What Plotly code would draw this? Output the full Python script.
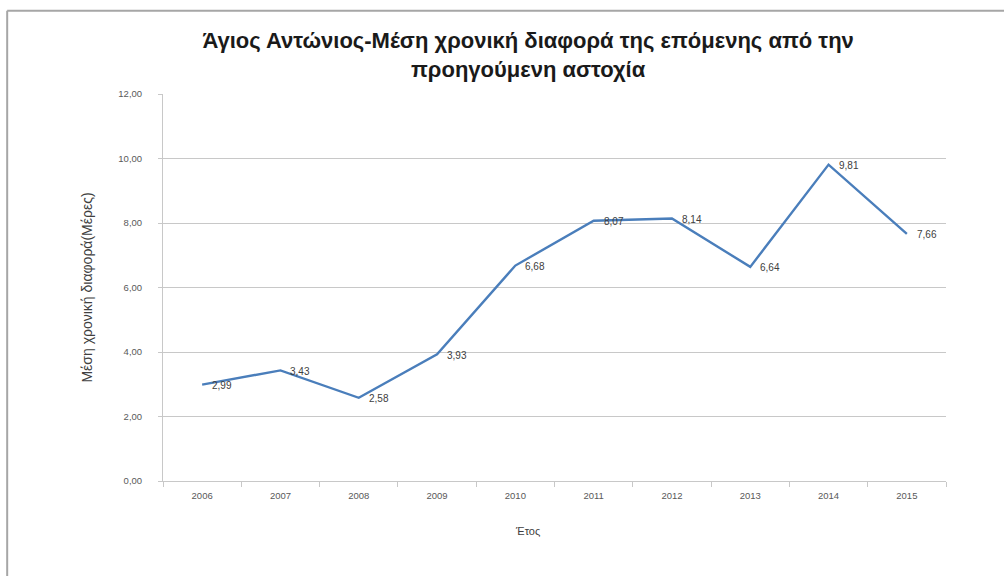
import plotly.graph_objects as go

# Mean interval (days) between consecutive failures, per year
years = ["2006", "2007", "2008", "2009", "2010", "2011", "2012", "2013", "2014", "2015"]
mean_gap_days = [2.99, 3.43, 2.58, 3.93, 6.68, 8.07, 8.14, 6.64, 9.81, 7.66]
y_ticks = [0, 2, 4, 6, 8, 10, 12]

title_text = "Άγιος Αντώνιος-Μέση χρονική διαφορά της επόμενης από την<br>προηγούμενη αστοχία"
x_title = "Έτος"
y_title = "Μέση χρονική διαφορά(Μέρες)"

FONT = "Liberation Sans"


def greek_num(v):
    return f"{v:.2f}".replace(".", ",")


fig = go.Figure()
fig.add_trace(go.Scatter(
    x=years,
    y=mean_gap_days,
    mode="lines",
    line=dict(color="#4A7EBB", width=2.4),
    hoverinfo="skip",
))

# Value labels to the right of each point (category axes take the category index)
for i, v in enumerate(mean_gap_days):
    fig.add_annotation(
        x=i, y=v, xref="x", yref="y",
        text=greek_num(v),
        showarrow=False,
        xanchor="left", yanchor="middle",
        xshift=8, yshift=-1,
        font=dict(family=FONT, size=10, color="#404040"),
    )

# X axis title, placed slightly left of the plot centre
fig.add_annotation(
    x=0.466, y=-0.129, xref="paper", yref="paper",
    text=x_title, showarrow=False,
    xanchor="center", yanchor="middle",
    font=dict(family=FONT, size=11, color="#404040"),
)

grid = "#c8c8c8"
fig.update_layout(
    width=1004,
    height=576,
    paper_bgcolor="white",
    plot_bgcolor="white",
    margin=dict(l=163, r=58, t=94, b=95),
    showlegend=False,
    separators=",.",
    title=dict(
        text=title_text,
        x=0.526,
        xref="container",
        xanchor="center",
        y=0.916,
        yref="container",
        yanchor="middle",
        font=dict(family=FONT, size=22, color="#1a1a1a", weight="bold"),
    ),
    xaxis=dict(
        type="category",
        categoryorder="array",
        categoryarray=years,
        range=[-0.5, len(years) - 0.5],
        showline=True,
        linecolor=grid,
        linewidth=1,
        ticks="outside",
        tickson="boundaries",
        ticklen=5,
        tickcolor=grid,
        showgrid=False,
        tickangle=0,
        ticklabelstandoff=6,
        tickfont=dict(family=FONT, size=9.5, color="#595959"),
        automargin=False,
    ),
    yaxis=dict(
        range=[0, 12],
        tickvals=y_ticks,
        tickformat=".2f",
        showline=True,
        linecolor=grid,
        linewidth=1,
        ticks="outside",
        ticklen=4,
        tickcolor=grid,
        showgrid=True,
        gridcolor=grid,
        gridwidth=1,
        zeroline=False,
        ticklabelstandoff=14,
        tickfont=dict(family=FONT, size=9.5, color="#595959"),
        title=dict(text=y_title, standoff=22,
                   font=dict(family=FONT, size=14, color="#404040")),
        automargin=False,
    ),
)

# Chart-area frame (left and top edges)
fig.add_shape(type="line", xref="paper", yref="paper",
              x0=-0.199, x1=-0.199, y0=1.215, y1=-0.3,
              line=dict(color="#a6a6a6", width=2))
fig.add_shape(type="line", xref="paper", yref="paper",
              x0=-0.199, x1=1.2, y0=1.215, y1=1.215,
              line=dict(color="#a6a6a6", width=2))

fig.write_html("out.html")
